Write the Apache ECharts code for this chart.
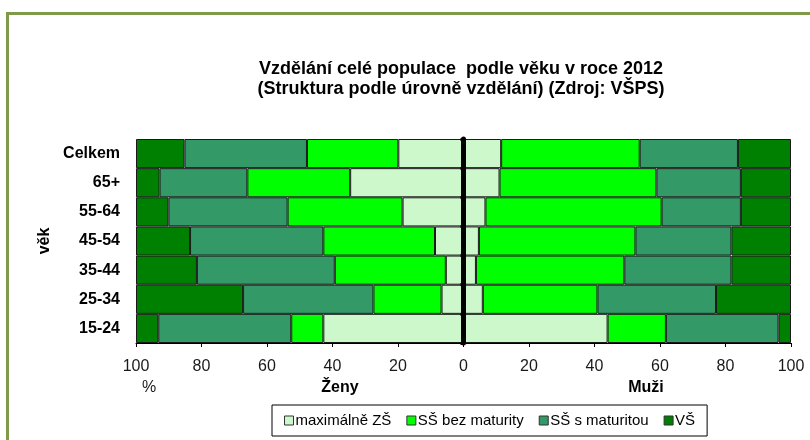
<!DOCTYPE html>
<html>
<head>
<meta charset="utf-8">
<script src="https://cdn.jsdelivr.net/npm/echarts@6/dist/echarts.min.js"></script>
<style>
  html, body { margin: 0; padding: 0; background: #fff; }
  #main { width: 810px; height: 440px; }
</style>
</head>
<body>
<div id="main"></div>
<script>
// věkové skupiny (shora dolů)
const categories = ["Celkem", "65+", "55-64", "45-54", "35-44", "25-34", "15-24"];
const levels = ["maximálně ZŠ", "SŠ bez maturity", "SŠ s maturitou", "VŠ"];
const colors = ["#CCF8CC", "#00FF00", "#339966", "#008000"];
const tickLabels = ["100", "80", "60", "40", "20", "0", "20", "40", "60", "80", "100"];

// ženy (%)
const zsF = [19.9, 34.6, 18.6, 8.7, 5.4, 6.7, 42.8];
const bezF = [27.9, 31.4, 35.1, 34.1, 33.9, 20.8, 9.8];
const matF = [37.4, 26.8, 36.4, 40.7, 42.1, 39.8, 40.6];
const vsF = [14.8, 7.2, 9.9, 16.5, 18.6, 32.7, 6.8];

// muži (%)
const zsM = [11.5, 11.0, 6.7, 4.7, 3.8, 5.9, 44.0];
const bezM = [42.3, 47.9, 53.8, 47.8, 45.3, 35.0, 17.8];
const matM = [30.0, 25.8, 24.2, 29.3, 32.7, 36.2, 34.4];
const vsM = [16.2, 15.3, 15.3, 18.2, 18.2, 22.9, 3.8];

const women = [zsF, bezF, matF, vsF];
const men = [zsM, bezM, matM, vsM];

const FONT = "Liberation Sans, Arial, sans-serif";

let series = [];
levels.forEach((name, i) => {
    const style = { color: colors[i], borderColor: "#1a1a1a", borderWidth: 1 };
    series.push({
        name: name,
        type: "bar",
        stack: "all",
        barCategoryGap: "0%",
        itemStyle: style,
        data: women[i].map((v) => -v),
    });
    series.push({
        name: name,
        type: "bar",
        stack: "all",
        barCategoryGap: "0%",
        itemStyle: style,
        data: men[i],
    });
});

const chart = echarts.init(document.getElementById("main"));
chart.setOption({
    animation: false,
    textStyle: { fontFamily: FONT },
    title: {
        text: "Vzdělání celé populace  podle věku v roce 2012\n(Struktura podle úrovně vzdělání) (Zdroj: VŠPS)",
        left: 456,
        top: 54,
        textAlign: "center",
        textStyle: { fontSize: 18, fontWeight: "bold", color: "#000", lineHeight: 20, fontFamily: FONT },
    },
    grid: { left: 136, right: 19, top: 139, bottom: 97, containLabel: false },
    xAxis: {
        type: "value",
        min: -100,
        max: 100,
        interval: 20,
        splitLine: { show: false },
        axisLine: { show: true, onZero: false, lineStyle: { color: "#000", width: 1 } },
        axisTick: { show: true, length: 4, lineStyle: { color: "#000" } },
        axisLabel: {
            margin: 16,
            fontSize: 16,
            color: "#1a1a1a",
            fontFamily: FONT,
            formatter: (v) => tickLabels[Math.round((v + 100) / 20)],
        },
    },
    yAxis: [
        {
            type: "category",
            inverse: true,
            data: categories,
            name: "věk",
            nameLocation: "middle",
            nameRotate: 90,
            nameGap: 82,
            nameTextStyle: { fontSize: 16, fontWeight: "bold", color: "#000", fontFamily: FONT },
            axisLine: { show: false, onZero: false },
            axisTick: { show: false },
            axisLabel: { margin: 16, fontSize: 16, fontWeight: "bold", color: "#000", fontFamily: FONT },
        },
        {
            type: "category",
            inverse: true,
            data: categories,
            position: "left",
            z: 10,
            axisLine: { show: true, onZero: true, lineStyle: { color: "#000", width: 5 } },
            axisTick: { show: true, length: 3, lineStyle: { color: "#000", width: 3 } },
            axisLabel: { show: false },
        },
    ],
    legend: {
        data: levels,
        left: 272,
        top: 405,
        padding: [8, 12, 8, 12],
        itemGap: 15,
        itemWidth: 9,
        itemHeight: 9,
        icon: "rect",
        borderColor: "#000",
        borderWidth: 1,
        itemStyle: { borderColor: "#333", borderWidth: 1 },
        textStyle: { fontSize: 15, color: "#000", padding: [0, 0, 0, -3], fontFamily: FONT },
    },
    graphic: [
        {
            type: "rect",
            shape: { x: 7.5, y: 13.5, width: 900, height: 600 },
            style: { fill: "none", stroke: "#7F9A48", lineWidth: 3 },
            silent: true,
        },
        { type: "text", x: 149, y: 388, style: { text: "%", font: "16px " + FONT, fill: "#1a1a1a", textAlign: "center", textVerticalAlign: "middle" } },
        { type: "text", x: 340, y: 388, style: { text: "Ženy", font: "bold 16px " + FONT, fill: "#000", textAlign: "center", textVerticalAlign: "middle" } },
        { type: "text", x: 646, y: 388, style: { text: "Muži", font: "bold 16px " + FONT, fill: "#000", textAlign: "center", textVerticalAlign: "middle" } },
    ],
    series: series,
});
</script>
</body>
</html>
